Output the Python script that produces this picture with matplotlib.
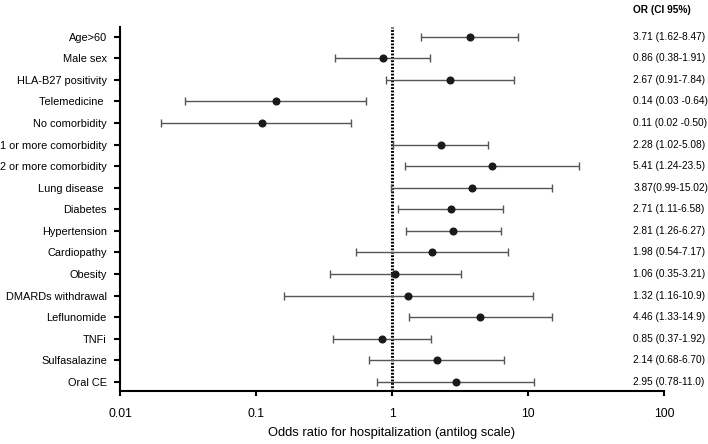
import matplotlib
matplotlib.use("Agg")
import matplotlib.pyplot as plt
import numpy as np

plt.rcParams['font.family'] = ['Liberation Sans', 'DejaVu Sans']

# rows, top to bottom
labels = ["Age>60", "Male sex", "HLA-B27 positivity", "Telemedicine ",
          "No comorbidity", "1 or more comorbidity", "2 or more comorbidity",
          "Lung disease ", "Diabetes", "Hypertension", "Cardiopathy",
          "Obesity", "DMARDs withdrawal", "Leflunomide", "TNFi",
          "Sulfasalazine", "Oral CE"]

# plotted odds ratios and CI limits
odds = [3.71, 0.86, 2.67, 0.14, 0.11, 2.28, 5.41, 3.87, 2.71, 2.81, 1.98,
        1.06, 1.32, 4.46, 0.85, 2.14, 2.95]
ci_low = [1.62, 0.38, 0.91, 0.03, 0.02, 1.02, 1.24, 0.99, 1.11, 1.26, 0.54,
          0.35, 0.16, 1.33, 0.37, 0.68, 0.78]
ci_high = [8.47, 1.91, 7.84, 0.64, 0.50, 5.08, 23.5, 15.02, 6.58, 6.27, 7.17,
           3.21, 10.9, 14.9, 1.92, 6.70, 11.0]

# text column as printed
or_text = ["3.71 (1.62-8.47)", "0.86 (0.38-1.91)", "2.67 (0.91-7.84)",
           "0.14 (0.03 -0.64)", "0.11 (0.02 -0.50)", "2.28 (1.02-5.08)",
           "5.41 (1.24-23.5)", "3.87(0.99-15.02)", "2.71 (1.11-6.58)",
           "2.81 (1.26-6.27)", "1.98 (0.54-7.17)", "1.06 (0.35-3.21)",
           "1.32 (1.16-10.9)", "4.46 (1.33-14.9)", "0.85 (0.37-1.92)",
           "2.14 (0.68-6.70)", "2.95 (0.78-11.0)"]

xticks = [0.01, 0.1, 1, 10, 100]
xtick_labels = ["0.01", "0.1", "1", "10", "100"]

odds = np.array(odds)
ci_low = np.array(ci_low)
ci_high = np.array(ci_high)
y = np.arange(len(labels))

fig = plt.figure(figsize=(7.08, 4.44), dpi=100)
ax = fig.add_axes([0.1695, 0.1194, 0.7685, 0.8198])

ax.errorbar(odds, y, xerr=[odds - ci_low, ci_high - odds], fmt='none',
            ecolor='#555555', elinewidth=1.0, capsize=2.6, capthick=1.0,
            zorder=2)
ax.plot(odds, y, 'o', color='#1a1a1a', markersize=4.8, zorder=3)

ax.axvline(1, color='black', lw=2.2, linestyle=(0, (0.6, 0.5)), zorder=1)

ax.set_xscale('log')
ax.set_xlim(0.01, 100)
ax.set_ylim(16.42, -0.45)
ax.set_xticks(xticks)
ax.set_xticklabels(xtick_labels)
ax.minorticks_off()
ax.set_yticks(y)
ax.set_yticklabels(labels)

for s in ['top', 'right']:
    ax.spines[s].set_visible(False)
for s in ['left', 'bottom']:
    ax.spines[s].set_linewidth(1.5)
ax.tick_params(axis='both', direction='out', width=1.5, color='black')
ax.tick_params(axis='y', length=4.5, pad=5, labelsize=7.9)
ax.tick_params(axis='x', length=3.5, pad=8.5, labelsize=8.7)

ax.set_xlabel("Odds ratio for hospitalization (antilog scale)", fontsize=9.3,
              labelpad=5)

# OR column on the right
trans = ax.get_yaxis_transform()
for yi, t in zip(y, or_text):
    ax.text(0.943, yi, t, transform=trans, ha='left', va='center',
            fontsize=7.3, clip_on=False)
fig.text(0.894, 0.977, "OR (CI 95%)", ha='left', va='center', fontsize=7.3,
         fontweight='bold')

fig.savefig("out.png", dpi=100)
